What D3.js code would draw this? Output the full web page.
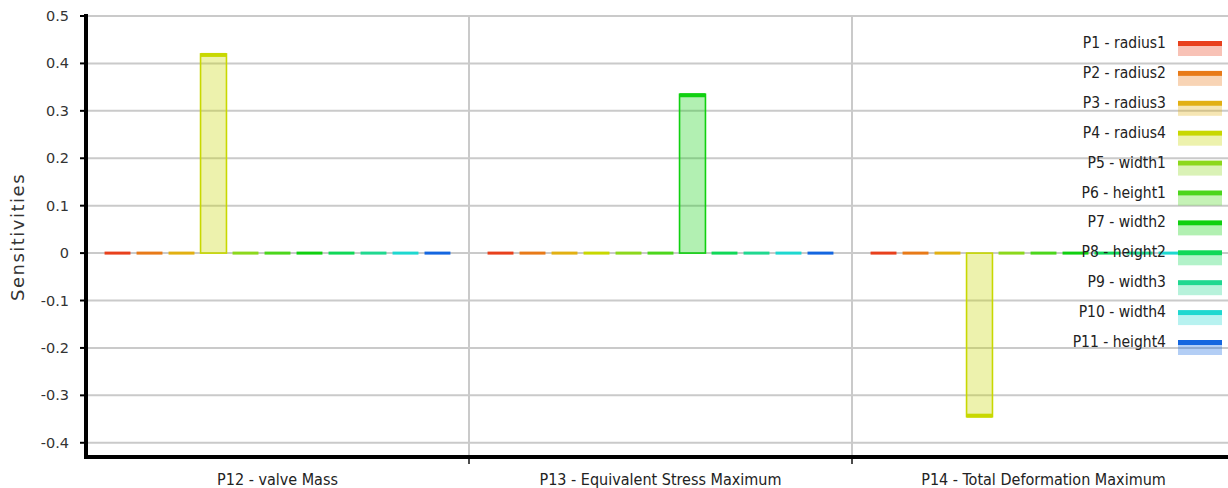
<!DOCTYPE html>
<html><head><meta charset="utf-8">
<script src="https://cdn.jsdelivr.net/npm/d3@7"></script>
<style>body{margin:0;background:#fff}svg{display:block}</style>
</head><body><svg id="c" width="1228" height="488"></svg>
<script>
const params = ["P1 - radius1","P2 - radius2","P3 - radius3","P4 - radius4","P5 - width1","P6 - height1","P7 - width2","P8 - height2","P9 - width3","P10 - width4","P11 - height4"];
const colors = ["#e8401c","#e87a18","#e2b012","#c8d800","#8cd81c","#4cd61c","#10d010","#10d858","#20d890","#1ed8d0","#1466e0"];
const outputs = ["P12 - valve Mass","P13 - Equivalent Stress Maximum","P14 - Total Deformation Maximum"];
const massVals = [0,0,0,0.42,0,0,0,0,0,0,0];
const stressVals = [0,0,0,0,0,0,0.335,0,0,0,0];
const deformVals = [0,0,0,-0.345,0,0,0,0,0,0,0];
const yTicks = [0.5,0.4,0.3,0.2,0.1,0,-0.1,-0.2,-0.3,-0.4];
const yTickLabels = ["0.5","0.4","0.3","0.2","0.1","0","-0.1","-0.2","-0.3","-0.4"];
const seriesByOutput = [massVals, stressVals, deformVals];

const svg = d3.select("#c");
const L = 86, R = 1235, T = 16, B = 457;
const y = d3.scaleLinear().domain([-0.43, 0.5]).range([B, T]);
const x0 = d3.scaleBand().domain(outputs).range([L, R]).padding(0);
const x1 = d3.scaleBand().domain(params).range([0, x0.bandwidth()]).paddingInner(0.19).paddingOuter(0.58);

// grid
svg.append("g").selectAll("line").data(yTicks).join("line")
  .attr("x1", L).attr("x2", 1228).attr("y1", d => y(d)).attr("y2", d => y(d))
  .attr("stroke", "#cacaca").attr("stroke-width", 2);
svg.append("g").selectAll("line").data(outputs.slice(1)).join("line")
  .attr("x1", d => x0(d)).attr("x2", d => x0(d)).attr("y1", T).attr("y2", B + 7)
  .attr("stroke", "#cacaca").attr("stroke-width", 2);
svg.append("g").selectAll("line").data(outputs.slice(1)).join("line")
  .attr("x1", d => x0(d)).attr("x2", d => x0(d)).attr("y1", B).attr("y2", B + 7)
  .attr("stroke", "#222").attr("stroke-width", 1.5);

// bars
const groups = svg.append("g").selectAll("g").data(outputs).join("g")
  .attr("transform", d => `translate(${x0(d)},0)`);
groups.each(function(o, oi) {
  const g = d3.select(this);
  const vals = seriesByOutput[oi];
  const data = params.map((p, i) => ({p, v: vals[i], c: colors[i]}));
  g.selectAll("rect").data(data.filter(d => d.v !== 0)).join("rect")
    .attr("x", d => x1(d.p)).attr("width", x1.bandwidth())
    .attr("y", d => y(Math.max(0, d.v))).attr("height", d => Math.abs(y(d.v) - y(0)))
    .attr("fill", d => d.c).attr("fill-opacity", 0.32)
    .attr("stroke", d => d.c).attr("stroke-width", 1.6);
  g.selectAll("line.end").data(data).join("line").attr("class", "end")
    .attr("x1", d => x1(d.p)).attr("x2", d => x1(d.p) + x1.bandwidth())
    .attr("y1", d => y(d.v) + (d.v > 0 ? 1 : d.v < 0 ? -1 : 0))
    .attr("y2", d => y(d.v) + (d.v > 0 ? 1 : d.v < 0 ? -1 : 0))
    .attr("stroke", d => d.c).attr("stroke-width", d => d.v === 0 ? 3 : 4);
});

// y axis
const ya = svg.append("g");
ya.append("line").attr("x1", L).attr("x2", L).attr("y1", T - 2).attr("y2", B + 2)
  .attr("stroke", "#000").attr("stroke-width", 4);
ya.selectAll("line.t").data(yTicks).join("line").attr("class", "t")
  .attr("x1", L - 6).attr("x2", L).attr("y1", d => y(d)).attr("y2", d => y(d))
  .attr("stroke", "#000").attr("stroke-width", 2);
ya.selectAll("text").data(yTicks).join("text")
  .attr("x", L - 17).attr("y", d => y(d)).attr("dy", "0.35em")
  .attr("text-anchor", "end").attr("font-family", "DejaVu Sans").attr("font-size", 14.5)
  .attr("fill", "#333").text((d, i) => yTickLabels[i]);
svg.append("text").attr("transform", `translate(24,237) rotate(-90)`)
  .attr("text-anchor", "middle").attr("font-family", "DejaVu Sans").attr("font-size", 18)
  .attr("letter-spacing", 1.5)
  .attr("fill", "#333").text("Sensitivities");

// x axis
svg.append("line").attr("x1", L - 2).attr("x2", 1228).attr("y1", B).attr("y2", B)
  .attr("stroke", "#000").attr("stroke-width", 4);
svg.append("g").selectAll("text").data(outputs).join("text")
  .attr("x", d => x0(d) + x0.bandwidth() / 2).attr("y", 485)
  .attr("text-anchor", "middle").attr("font-family", "DejaVu Sans Condensed").attr("font-size", 16)
  .attr("fill", "#222").text(d => d);

// legend
const lg = svg.append("g").selectAll("g").data(params).join("g")
  .attr("transform", (d, i) => `translate(0,${48 + i * 29.9})`);
lg.append("text").attr("x", 1166).attr("y", 0)
  .attr("text-anchor", "end").attr("font-family", "DejaVu Sans Condensed").attr("font-size", 15.5)
  .attr("fill", "#222").text(d => d);
lg.append("rect").attr("x", 1178).attr("y", -2).attr("width", 44).attr("height", 10)
  .attr("fill", (d, i) => colors[i]).attr("fill-opacity", 0.32);
lg.append("rect").attr("x", 1178).attr("y", -7).attr("width", 44).attr("height", 5)
  .attr("fill", (d, i) => colors[i]);
</script></body></html>
